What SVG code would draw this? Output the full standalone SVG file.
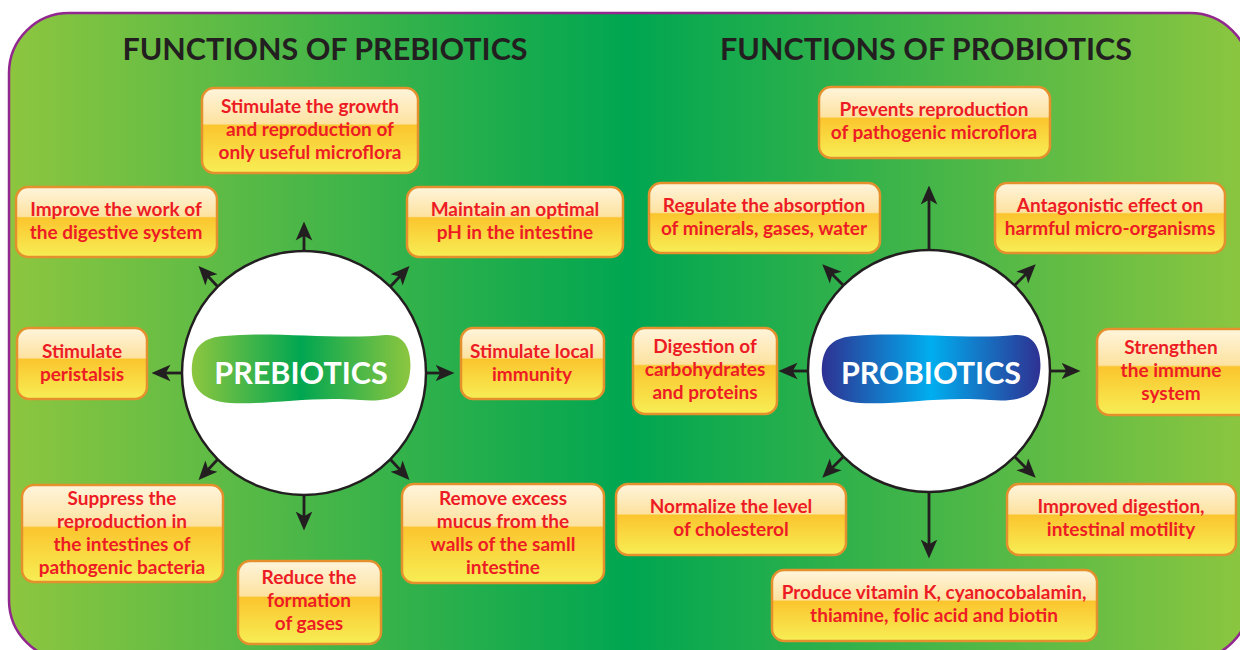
<svg xmlns="http://www.w3.org/2000/svg" width="1240" height="650" viewBox="0 0 1240 650">
<defs>
<linearGradient id="bg" x1="0" y1="0" x2="1" y2="0">
<stop offset="0" stop-color="#8dc63f"/>
<stop offset="0.5" stop-color="#00a651"/>
<stop offset="1" stop-color="#8dc63f"/>
</linearGradient>
<linearGradient id="boxg" x1="0" y1="0" x2="0" y2="1">
<stop offset="0" stop-color="#fff5dc"/>
<stop offset="0.42" stop-color="#fde2a0"/>
<stop offset="0.44" stop-color="#fbc52e"/>
<stop offset="1" stop-color="#f7ee55"/>
</linearGradient>
<linearGradient id="preg" x1="0" y1="0" x2="1" y2="0">
<stop offset="0" stop-color="#8dc63f"/>
<stop offset="0.5" stop-color="#00a651"/>
<stop offset="1" stop-color="#8dc63f"/>
</linearGradient>
<linearGradient id="prog" x1="0" y1="0" x2="1" y2="0">
<stop offset="0" stop-color="#2e3192"/>
<stop offset="0.5" stop-color="#00aeef"/>
<stop offset="1" stop-color="#2e3192"/>
</linearGradient>
<marker id="ah" viewBox="0 0 16 16" refX="8" refY="8" markerWidth="19" markerHeight="19" markerUnits="userSpaceOnUse" orient="auto">
<path d="M0,1 L16,8 L0,15 L4,8 Z" fill="#231f20"/>
</marker>
<path id="blob" d="M225,336 C270,331 340,340 385,335 C410,333 413,360 409,378 C405,398 386,402 360,400 C310,396 270,405 230,403 C200,401 190,385 192,365 C194,345 205,337 225,336 Z"/>
</defs>
<style>
.box{fill:url(#boxg);stroke:#e3902d;stroke-width:2.5}
.t{font-family:Lato,"Liberation Sans",sans-serif;font-weight:bold;font-size:19px;fill:#ed1c24;text-anchor:middle}
.title{font-family:Lato,"Liberation Sans",sans-serif;font-weight:bold;font-size:30.5px;fill:#231f20;text-anchor:middle}
.badge{font-family:Lato,"Liberation Sans",sans-serif;font-weight:bold;font-size:30.5px;fill:#ffffff;text-anchor:middle}
.circ{fill:#ffffff;stroke:#231f20;stroke-width:2.5}
.ar{stroke:#231f20;stroke-width:2.8;fill:none;marker-end:url(#ah)}
</style>
<rect x="9" y="13" width="1241" height="647" rx="60" ry="60" fill="url(#bg)" stroke="#92278f" stroke-width="2.5"/>
<text class="title" x="325" y="60">FUNCTIONS OF PREBIOTICS</text>
<text class="title" x="926" y="60">FUNCTIONS OF PROBIOTICS</text>

<g id="connectors">
<line class="ar" x1="304" y1="251" x2="304" y2="231"/>
<line class="ar" x1="304" y1="495" x2="304" y2="521"/>
<line class="ar" x1="182" y1="373" x2="161" y2="373"/>
<line class="ar" x1="426" y1="373" x2="445" y2="373"/>
<line class="ar" x1="218" y1="287" x2="205" y2="273"/>
<line class="ar" x1="390" y1="287" x2="403" y2="273"/>
<line class="ar" x1="218" y1="459" x2="205" y2="473"/>
<line class="ar" x1="390" y1="459" x2="403" y2="473"/>
<line class="ar" x1="929" y1="250" x2="929" y2="195"/>
<line class="ar" x1="929" y1="492" x2="929" y2="549"/>
<line class="ar" x1="808" y1="371" x2="788" y2="371"/>
<line class="ar" x1="1050" y1="371" x2="1071" y2="371"/>
<line class="ar" x1="843" y1="285" x2="829" y2="271"/>
<line class="ar" x1="1015" y1="285" x2="1029" y2="271"/>
<line class="ar" x1="843" y1="457" x2="829" y2="471"/>
<line class="ar" x1="1015" y1="457" x2="1029" y2="471"/>
</g>

<g id="prebiotics">
<circle class="circ" cx="304" cy="373" r="122"/>
<use href="#blob" fill="url(#preg)"/>
<text class="badge" x="301" y="384">PREBIOTICS</text>
</g>
<g id="probiotics">
<circle class="circ" cx="929" cy="371" r="121"/>
<use href="#blob" transform="translate(630,0)" fill="url(#prog)"/>
<text class="badge" x="931" y="384">PROBIOTICS</text>
</g>

<g id="pre1"><rect class="box" x="202" y="88" width="216" height="85" rx="12"/>
<text class="t" x="310" y="113">Stimulate the growth</text><text class="t" x="310" y="136">and reproduction of</text><text class="t" x="310" y="159">only useful microflora</text></g>
<g id="pre2"><rect class="box" x="16" y="187" width="201" height="70" rx="12"/>
<text class="t" x="116" y="216">Improve the work of</text><text class="t" x="116" y="239">the digestive system</text></g>
<g id="pre3"><rect class="box" x="407" y="187" width="216" height="70" rx="12"/>
<text class="t" x="515" y="216">Maintain an optimal</text><text class="t" x="515" y="239">pH in the intestine</text></g>
<g id="pre4"><rect class="box" x="17" y="328" width="130" height="71" rx="12"/>
<text class="t" x="82" y="358">Stimulate</text><text class="t" x="82" y="381">peristalsis</text></g>
<g id="pre5"><rect class="box" x="461" y="328" width="143" height="71" rx="12"/>
<text class="t" x="532" y="358">Stimulate local</text><text class="t" x="532" y="381">immunity</text></g>
<g id="pre6"><rect class="box" x="22" y="485" width="201" height="97" rx="12"/>
<text class="t" x="122" y="505">Suppress the</text><text class="t" x="122" y="528">reproduction in</text><text class="t" x="122" y="551">the intestines of</text><text class="t" x="122" y="574">pathogenic bacteria</text></g>
<g id="pre7"><rect class="box" x="238" y="561" width="143" height="83" rx="12"/>
<text class="t" x="309" y="584">Reduce the</text><text class="t" x="309" y="607">formation</text><text class="t" x="309" y="630">of gases</text></g>
<g id="pre8"><rect class="box" x="402" y="484" width="202" height="99" rx="12"/>
<text class="t" x="503" y="505">Remove excess</text><text class="t" x="503" y="528">mucus from the</text><text class="t" x="503" y="551">walls of the samll</text><text class="t" x="503" y="574">intestine</text></g>

<g id="pro1"><rect class="box" x="819" y="87" width="231" height="71" rx="12"/>
<text class="t" x="934" y="116">Prevents reproduction</text><text class="t" x="934" y="139">of pathogenic microflora</text></g>
<g id="pro2"><rect class="box" x="649" y="183" width="231" height="70" rx="12"/>
<text class="t" x="764" y="212">Regulate the absorption</text><text class="t" x="764" y="235">of minerals, gases, water</text></g>
<g id="pro3"><rect class="box" x="995" y="183" width="230" height="70" rx="12"/>
<text class="t" x="1110" y="212">Antagonistic effect on</text><text class="t" x="1110" y="235">harmful micro-organisms</text></g>
<g id="pro4"><rect class="box" x="633" y="328" width="144" height="86" rx="12"/>
<text class="t" x="705" y="353">Digestion of</text><text class="t" x="705" y="376">carbohydrates</text><text class="t" x="705" y="399">and proteins</text></g>
<g id="pro5"><rect class="box" x="1097" y="329" width="155" height="86" rx="12"/>
<text class="t" x="1171" y="354">Strengthen</text><text class="t" x="1171" y="377">the immune</text><text class="t" x="1171" y="400">system</text></g>
<g id="pro6"><rect class="box" x="616" y="484" width="230" height="71" rx="12"/>
<text class="t" x="731" y="513">Normalize the level</text><text class="t" x="731" y="536">of cholesterol</text></g>
<g id="pro7"><rect class="box" x="1007" y="484" width="229" height="71" rx="12"/>
<text class="t" x="1121" y="513">Improved digestion,</text><text class="t" x="1121" y="536">intestinal motility</text></g>
<g id="pro8"><rect class="box" x="772" y="570" width="325" height="71" rx="12"/>
<text class="t" x="934" y="599">Produce vitamin K, cyanocobalamin,</text><text class="t" x="934" y="622">thiamine, folic acid and biotin</text></g>
</svg>
